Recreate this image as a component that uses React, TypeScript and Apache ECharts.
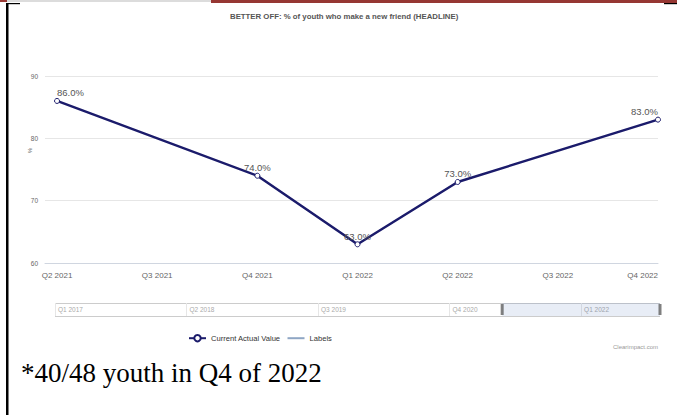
import React, { useEffect, useRef } from "react";
import * as echarts from "echarts";

const titleText = "BETTER OFF: % of youth who make a new friend (HEADLINE)";
const categories = ["Q2 2021", "Q3 2021", "Q4 2021", "Q1 2022", "Q2 2022", "Q3 2022", "Q4 2022"];
const values: (number | null)[] = [86, null, 74, 63, 73, null, 83];
const yMin = 60;
const yMax = 90;
const yInterval = 10;
const navQuarters = [
  "Q1 2017", "Q2 2017", "Q3 2017", "Q4 2017",
  "Q1 2018", "Q2 2018", "Q3 2018", "Q4 2018",
  "Q1 2019", "Q2 2019", "Q3 2019", "Q4 2019",
  "Q1 2020", "Q2 2020", "Q3 2020", "Q4 2020",
  "Q1 2021", "Q2 2021", "Q3 2021", "Q4 2021",
  "Q1 2022", "Q2 2022", "Q3 2022", "Q4 2022",
];
const navSelection = ["Q2 2021", "Q4 2022"];
const legendNames = ["Current Actual Value", "Labels"];
const footnote = "*40/48 youth in Q4 of 2022";
const credits = "Clearimpact.com";

const SANS = "'Liberation Sans', Arial, sans-serif";

export default function App() {
  const ref = useRef<HTMLDivElement>(null);
  useEffect(() => {
    document.body.style.margin = "0";
    if (!ref.current) return;
    const chart = echarts.init(ref.current, null, { renderer: "svg" });
    const lastIdx = categories.length - 1;
    const lineData = values
      .map((v, i) => {
        if (v == null) return null;
        const align = i === 0 ? "left" : i === lastIdx ? "right" : "center";
        return { value: [i, v], label: { align } };
      })
      .filter((d) => d !== null);

    chart.setOption({
      animation: false,
      backgroundColor: "#ffffff",
      title: {
        text: titleText,
        left: 225,
        top: 7,
        textStyle: { fontFamily: SANS, fontSize: 7.8, fontWeight: "bold", color: "#555" },
      },
      legend: {
        data: [
          { name: legendNames[0] },
          { name: legendNames[1], itemStyle: { opacity: 0 } },
        ],
        left: 183,
        top: 329,
        itemWidth: 17,
        itemHeight: 8,
        itemGap: 6,
        textStyle: { fontFamily: SANS, fontSize: 7.6, color: "#333" },
      },
      grid: [
        { left: 45, right: 19, top: 76, bottom: 152 },
        { left: 55, right: 17, top: 303, height: 13 },
      ],
      xAxis: [
        {
          type: "value",
          gridIndex: 0,
          min: -0.12,
          max: lastIdx,
          axisLine: { show: true, lineStyle: { color: "#d0d6e0" } },
          axisTick: { show: false },
          splitLine: { show: false },
          axisLabel: {
            customValues: categories.map((_, i) => i),
            formatter: (v: number) => categories[Math.round(v)] ?? "",
            fontFamily: SANS,
            fontSize: 8,
            color: "#666",
            margin: 8,
            alignMaxLabel: "right",
          },
        },
        {
          type: "category",
          gridIndex: 1,
          data: navQuarters,
          boundaryGap: false,
          axisLine: { show: false },
          axisTick: { show: false },
          axisLabel: {
            inside: true,
            interval: 4,
            align: "left",
            padding: [0, 0, 0, 3],
            margin: 3,
            fontFamily: SANS,
            fontSize: 6.5,
            color: "#aaa",
          },
          splitLine: { show: true, interval: 4, lineStyle: { color: "#e6e6e6" } },
        },
      ],
      yAxis: [
        {
          type: "value",
          gridIndex: 0,
          min: yMin,
          max: yMax,
          interval: yInterval,
          name: "%",
          nameLocation: "middle",
          nameRotate: 90,
          nameGap: 12,
          nameMoveOverlap: false,
          nameTextStyle: { fontFamily: SANS, fontSize: 6, color: "#666", padding: [0, 0, 0, 38] },
          axisLine: { show: false },
          axisTick: { show: false },
          axisLabel: { fontFamily: SANS, fontSize: 6.5, color: "#666", margin: 7 },
          splitLine: { lineStyle: { color: "#e6e6e6" } },
        },
        {
          type: "value",
          gridIndex: 1,
          min: 0,
          max: 1,
          interval: 1,
          axisLine: { show: false },
          axisTick: { show: false },
          axisLabel: { show: false },
          splitLine: { lineStyle: { color: "#cccccc" } },
        },
      ],
      series: [
        {
          name: legendNames[0],
          type: "line",
          xAxisIndex: 0,
          yAxisIndex: 0,
          data: lineData,
          connectNulls: true,
          symbol: "circle",
          symbolSize: 5,
          lineStyle: { color: "#1b1b6b", width: 2.5 },
          itemStyle: { color: "#ffffff", borderColor: "#1b1b6b", borderWidth: 1 },
          label: {
            show: true,
            position: "top",
            distance: 0,
            formatter: (p: any) => p.value[1].toFixed(1) + "%",
            fontFamily: SANS,
            fontSize: 9.5,
            color: "#555",
          },
          z: 3,
        },
        {
          name: legendNames[1],
          type: "line",
          xAxisIndex: 0,
          yAxisIndex: 0,
          data: [],
          symbol: "none",
          lineStyle: { color: "#8fa6c4", width: 1.5 },
          itemStyle: { color: "#8fa6c4" },
        },
        {
          name: "navigator",
          type: "scatter",
          xAxisIndex: 1,
          yAxisIndex: 1,
          symbol: "rect",
          symbolSize: [3, 11],
          itemStyle: { color: "#606060" },
          data: navSelection.map((q) => [q, 0.5]),
          silent: true,
          z: 4,
          markArea: {
            silent: true,
            itemStyle: { color: "rgba(102,133,194,0.15)" },
            data: [[{ xAxis: navSelection[0] }, { xAxis: navSelection[1] }]],
          },
        },
      ],
      graphic: [
        { type: "rect", shape: { x: 0, y: 0, width: 7, height: 2 }, style: { fill: "#9a3a35" } },
        { type: "rect", shape: { x: 7, y: 0, width: 204, height: 2 }, style: { fill: "#dcdcdc" } },
        { type: "rect", shape: { x: 211, y: 0, width: 466, height: 3 }, style: { fill: "#963733" } },
        { type: "rect", shape: { x: 7, y: 3, width: 13, height: 1.2 }, style: { fill: "#000" } },
        { type: "rect", shape: { x: 664, y: 3, width: 13, height: 1.2 }, style: { fill: "#000" } },
        { type: "rect", shape: { x: 6, y: 3, width: 2.5, height: 412 }, style: { fill: "#000" } },
        {
          type: "text",
          right: 19,
          top: 344,
          style: { text: credits, fontSize: 6, fontFamily: SANS, fill: "#999" },
        },
        {
          type: "text",
          left: 21,
          top: 359,
          style: {
            text: footnote,
            fontSize: 27,
            fontFamily: "'Liberation Serif', serif",
            fill: "#000",
          },
        },
      ],
    });
    return () => chart.dispose();
  }, []);
  return <div ref={ref} style={{ width: 677, height: 415 }} />;
}
